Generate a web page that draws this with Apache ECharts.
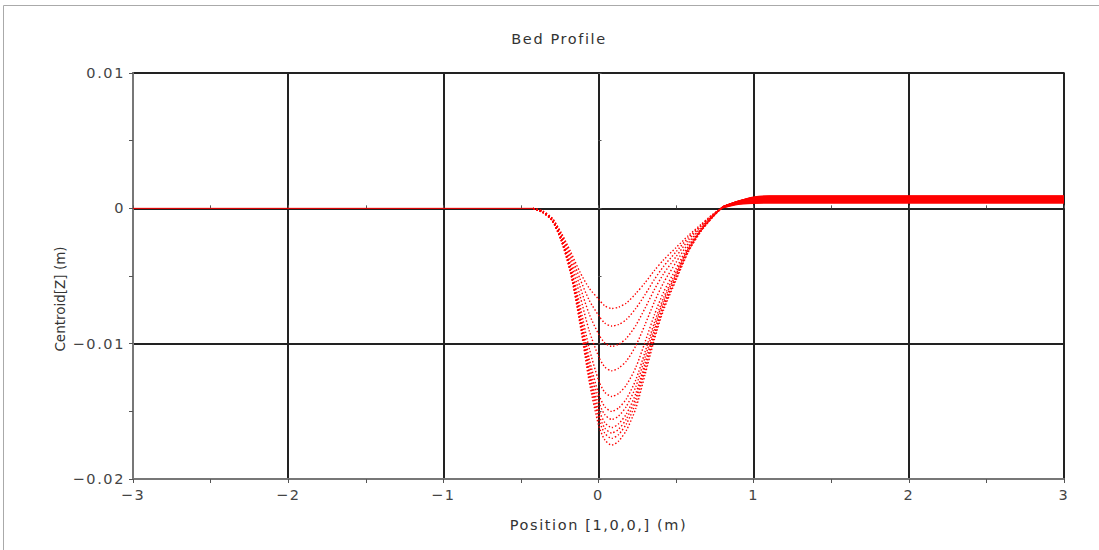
<!DOCTYPE html>
<html lang="en">
  <head>
    <meta charset="UTF-8" />
    <title>Bed Profile</title>
    <style>
      html, body { margin: 0; padding: 0; background: #fff; }
      #container { width: 1099px; height: 550px; }
      /* the original plot uses a widely spaced font, except for the rotated axis name */
      #container text { letter-spacing: 1.6px; }
      #container text[transform^="matrix(0,"] { letter-spacing: 0; }
    </style>
    <script src="https://cdn.jsdelivr.net/npm/echarts@6.0.0/dist/echarts.min.js"></script>
  </head>
  <body>
    <div id="container"></div>
    <script>
      // positions along the bed (m), shared by every profile
      const positions = [-0.42, -0.36, -0.3, -0.24, -0.18, -0.12, -0.06, 0, 0.04, 0.085, 0.13, 0.18,
        0.24, 0.3, 0.36, 0.42, 0.5, 0.58, 0.66, 0.74, 0.8, 0.9, 1.0, 1.1, 3]

      // bed level (mm) for each saved time step, shallow to deep
      const profile1 = [0, -0.20, -0.70, -1.80, -3.20, -4.70, -5.90, -6.70, -7.20, -7.40, -7.30, -7.00, -6.30, -5.50, -4.60, -3.80, -2.90, -2.00, -1.20, -0.40, 0.05, 0.30, 0.38, 0.40, 0.40]
      const profile2 = [0, -0.21, -0.73, -1.88, -3.41, -5.19, -6.79, -7.90, -8.48, -8.70, -8.58, -8.21, -7.40, -6.38, -5.26, -4.28, -3.21, -2.15, -1.26, -0.43, 0.06, 0.34, 0.44, 0.46, 0.46]
      const profile3 = [0, -0.23, -0.76, -1.97, -3.64, -5.75, -7.81, -9.28, -9.94, -10.20, -10.04, -9.60, -8.66, -7.38, -6.01, -4.83, -3.57, -2.33, -1.34, -0.46, 0.07, 0.39, 0.50, 0.53, 0.53]
      const profile4 = [0, -0.25, -0.79, -2.07, -3.93, -6.43, -9.04, -10.93, -11.71, -12.00, -11.81, -11.28, -10.17, -8.59, -6.92, -5.48, -3.99, -2.55, -1.43, -0.49, 0.08, 0.43, 0.56, 0.60, 0.60]
      const profile5 = [0, -0.26, -0.83, -2.19, -4.23, -7.15, -10.34, -12.69, -13.58, -13.90, -13.68, -13.05, -11.77, -9.88, -7.88, -6.18, -4.45, -2.77, -1.52, -0.53, 0.09, 0.46, 0.63, 0.67, 0.67]
      const profile6 = [0, -0.28, -0.85, -2.25, -4.40, -7.56, -11.09, -13.69, -14.65, -15.00, -14.75, -14.07, -12.69, -10.61, -8.44, -6.58, -4.71, -2.90, -1.58, -0.55, 0.10, 0.48, 0.68, 0.73, 0.73]
      const profile7 = [0, -0.28, -0.86, -2.29, -4.50, -7.79, -11.50, -14.25, -15.24, -15.60, -15.34, -14.63, -13.20, -11.02, -8.74, -6.80, -4.85, -2.97, -1.61, -0.56, 0.10, 0.49, 0.72, 0.78, 0.78]
      const profile8 = [0, -0.29, -0.87, -2.32, -4.59, -8.01, -11.91, -14.80, -15.82, -16.20, -15.92, -15.19, -13.70, -11.42, -9.04, -7.02, -4.99, -3.05, -1.64, -0.57, 0.10, 0.50, 0.76, 0.82, 0.82]
      const profile9 = [0, -0.29, -0.88, -2.35, -4.66, -8.16, -12.19, -15.17, -16.22, -16.60, -16.32, -15.56, -14.04, -11.70, -9.25, -7.17, -5.09, -3.09, -1.66, -0.58, 0.10, 0.50, 0.78, 0.85, 0.85]
      const profile10 = [0, -0.30, -0.89, -2.37, -4.72, -8.31, -12.46, -15.54, -16.61, -17.00, -16.71, -15.93, -14.38, -11.96, -9.45, -7.32, -5.18, -3.14, -1.68, -0.59, 0.10, 0.51, 0.80, 0.88, 0.88]
      const profile11 = [0, -0.30, -0.90, -2.40, -4.80, -8.50, -12.80, -16.00, -17.10, -17.50, -17.20, -16.40, -14.80, -12.30, -9.70, -7.50, -5.30, -3.20, -1.70, -0.60, 0.10, 0.52, 0.82, 0.90, 0.90]

      // undisturbed upstream bed
      const flatX = [-3, -0.42]
      const flatZ = [0, 0]

      const profiles = [profile1, profile2, profile3, profile4, profile5, profile6,
        profile7, profile8, profile9, profile10, profile11]

      // from this index on the profiles lie on top of each other (drawn solid)
      const plateauStart = 20

      const chart = echarts.init(document.getElementById('container'), null, { renderer: 'svg' })
      const red = '#ff0000'
      const font = 'DejaVu Sans'
      const minus = (v) => String(v).replace('-', '\u2212')

      const series = [
        {
          type: 'line',
          data: flatX.map((x, i) => [x, flatZ[i]]),
          showSymbol: false,
          lineStyle: { color: red, width: 1 },
          z: 3,
        },
      ]
      profiles.forEach(function (p) {
        const pts = positions.map((x, i) => [x, p[i] / 1000])
        series.push({
          type: 'line',
          data: pts.slice(0, plateauStart + 1),
          showSymbol: false,
          smooth: 0.25,
          lineStyle: { color: red, width: 1.4, type: [1.4, 2] },
          z: 3,
        })
        series.push({
          type: 'line',
          data: pts.slice(plateauStart),
          showSymbol: false,
          smooth: 0.3,
          lineStyle: { color: red, width: 1.6 },
          z: 3,
        })
      })

      const tickStyle = { color: '#555', width: 1 }
      const hiddenAxis = {
        axisLine: { show: false },
        axisLabel: { show: false },
        splitLine: { show: false },
        axisTick: { show: true, inside: true, length: 3, lineStyle: tickStyle },
        minorTick: { show: true, splitNumber: 2, length: 3, lineStyle: tickStyle },
      }

      chart.setOption({
        animation: false,
        title: {
          text: 'Bed Profile',
          left: 554,
          top: 26,
          textAlign: 'center',
          textStyle: { fontFamily: font, fontSize: 14.5, fontWeight: 'normal', color: '#333' },
        },
        grid: {
          left: 133,
          right: 35,
          top: 73,
          bottom: 71,
          show: true,
          borderColor: '#777',
          borderWidth: 2,
        },
        xAxis: [
          {
            type: 'value',
            min: -3,
            max: 3,
            interval: 1,
            name: 'Position [1,0,0,] (m)',
            nameLocation: 'middle',
            nameGap: 38,
            nameTextStyle: { fontFamily: font, fontSize: 14.5, color: '#333' },
            axisLine: { onZero: false, lineStyle: { color: '#777', width: 2 } },
            axisTick: { show: true, length: 4, lineStyle: tickStyle },
            minorTick: { show: true, splitNumber: 2, length: 4, lineStyle: tickStyle },
            axisLabel: { fontFamily: font, fontSize: 14.5, color: '#444', margin: 8, formatter: minus },
            splitLine: { show: true, lineStyle: { color: '#222', width: 2 } },
          },
          Object.assign({ type: 'value', min: -3, max: 3, interval: 1, position: 'bottom' }, hiddenAxis),
        ],
        yAxis: [
          {
            type: 'value',
            min: -0.02,
            max: 0.01,
            interval: 0.01,
            axisLine: { onZero: false, lineStyle: { color: '#777', width: 2 } },
            axisTick: { show: true, length: 4, lineStyle: tickStyle },
            minorTick: { show: true, splitNumber: 2, length: 4, lineStyle: tickStyle },
            axisLabel: { fontFamily: font, fontSize: 14.5, color: '#444', margin: 8, formatter: minus },
            splitLine: { show: true, lineStyle: { color: '#222', width: 2 } },
          },
          Object.assign({ type: 'value', min: -0.02, max: 0.01, interval: 0.01, position: 'left' }, hiddenAxis),
        ],
        graphic: [
          {
            type: 'polyline',
            shape: { points: [[3.5, 550], [3.5, 5.5], [1099, 5.5]] },
            style: { stroke: '#aaa', lineWidth: 1, fill: null },
            silent: true,
          },
          {
            type: 'text',
            x: 60,
            y: 299,
            rotation: Math.PI / 2,
            style: {
              text: 'Centroid[Z] (m)',
              fontFamily: font,
              fontSize: 13.5,
              fill: '#333',
              align: 'center',
              verticalAlign: 'middle',
            },
            silent: true,
          },
        ],
        series: series,
      })
    </script>
  </body>
</html>
